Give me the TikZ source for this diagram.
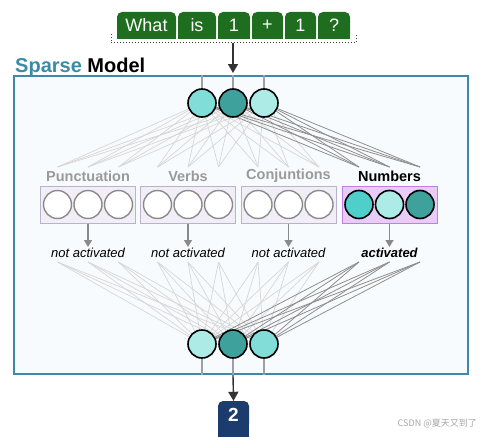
\documentclass[tikz,border=0pt]{standalone}
\usepackage{fontspec}
\setmainfont{Liberation Sans}
\newfontfamily\cjkfont{Noto Sans CJK SC}
\usetikzlibrary{arrows.meta}
\definecolor{tokgreen}{HTML}{1F6D1F}
\definecolor{navy}{HTML}{1C3C6E}
\definecolor{sparseteal}{HTML}{3A8BA8}
\definecolor{boxedge}{HTML}{3F88A8}
\definecolor{boxfill}{HTML}{F8FBFE}
\definecolor{tealA}{HTML}{80DDD7}
\definecolor{tealB}{HTML}{3FA19C}
\definecolor{tealC}{HTML}{ADEBE6}
\definecolor{tealD}{HTML}{4ECFC9}
\definecolor{idlegray}{HTML}{8A8A8A}
\definecolor{groupedge}{HTML}{B9B2C9}
\definecolor{groupfill}{HTML}{F1EEF8}
\definecolor{numedge}{HTML}{C27FE2}
\definecolor{numfill}{HTML}{E8CBF6}
\definecolor{lightline}{HTML}{D6D6D6}
\definecolor{darkline}{HTML}{8E8E8E}
\definecolor{vline}{HTML}{A0A0A0}
\definecolor{labgray}{HTML}{9A9A9A}
\pgfdeclarelayer{back}
\pgfdeclarelayer{lines}
\pgfsetlayers{back,lines,main}
\begin{document}
\begin{tikzpicture}[x=1pt,y=-1pt,
  tok/.style={fill=tokgreen,text=white,rounded corners=5pt,minimum height=27pt,inner sep=0pt,font=\fontsize{18}{18}\selectfont},
  neuron/.style={circle,draw=black,line width=1.6pt,minimum size=28pt,inner sep=0pt},
  idle/.style={circle,draw=idlegray,line width=1.4pt,fill=white,minimum size=28pt,inner sep=0pt},
  group/.style={draw=groupedge,fill=groupfill,line width=1pt,minimum width=95pt,minimum height=37pt,inner sep=0pt},
  numgroup/.style={draw=numedge,fill=numfill,line width=1pt,minimum width=95pt,minimum height=37pt,inner sep=0pt},
  catlab/.style={font=\bfseries\fontsize{14.5}{14.5}\selectfont,text=labgray,inner sep=0pt},
  actlab/.style={font=\itshape\fontsize{13}{13}\selectfont,inner sep=1pt},
  garr/.style={draw=idlegray,line width=1.3pt,-{Triangle[length=7pt,width=8pt]}},
  barr/.style={draw=black!80,line width=1.4pt,-{Triangle[length=9pt,width=10pt]}},
  vl/.style={draw=vline,line width=1.3pt},
  lightw/.style={draw=lightline,line width=0.7pt},
  darkw/.style={draw=darkline,line width=0.8pt}]
\useasboundingbox (0,0) rectangle (481,436);

% input tokens
\node[tok,minimum width=59pt] (w1) at (146.5,25.5) {What};
\node[tok,minimum width=38pt] (w2) at (197,25.5) {is};
\node[tok,minimum width=32pt] (w3) at (234,25.5) {1};
\node[tok,minimum width=31pt] (w4) at (267.5,25.5) {+};
\node[tok,minimum width=31pt] (w5) at (300.5,25.5) {1};
\node[tok,minimum width=32pt] (w6) at (334,25.5) {?};
\begin{pgfonlayer}{lines}
\foreach \w in {w1,w2,w3,w4,w5,w6}{
  \fill[tokgreen] (\w.west) rectangle (\w.south east);
}
\end{pgfonlayer}
\draw[black!75,line width=1pt,dotted] (111,34) -- (111,43) -- (356,43) -- (356,34);
\coordinate (inStart) at (233,43);
\coordinate (inEnd) at (233,73);
\draw[barr] (inStart) -- (inEnd);

% title
\node[anchor=base west,inner sep=0pt,font=\bfseries\fontsize{20}{20}\selectfont] (title) at (15,72) {\textcolor{sparseteal}{Sparse} Model};

% main box
\begin{pgfonlayer}{back}
\node[draw=boxedge,fill=boxfill,line width=1.8pt,minimum width=454pt,minimum height=298pt,inner sep=0pt] (box) at (241,225) {};
\end{pgfonlayer}

% top neurons
\node[neuron,fill=tealA] (t1) at (202,103) {};
\node[neuron,fill=tealB] (t2) at (233,103) {};
\node[neuron,fill=tealC] (t3) at (264,103) {};
\foreach \t in {t1,t2,t3}{
  \begin{pgfonlayer}{lines}
  \draw[vl] (\t) -- (\t |- box.north);
  \end{pgfonlayer}
}

% groups
\node[group] (gP) at (88,204.5) {};
\node[group] (gV) at (188,204.5) {};
\node[group] (gC) at (288.5,204.5) {};
\node[numgroup] (gN) at (389.5,204.5) {};

\node[catlab] (lP) at (88,176) {Punctuation};
\node[catlab] (lV) at (188,176) {Verbs};
\node[catlab] (lC) at (288.5,176) {Conjuntions};
\node[catlab,text=black] (lN) at (389.5,176) {Numbers};

\foreach \g/\x in {P/88,V/188,C/288.5}{
  \node[idle] (\g1) at (\x-30.5,204.5) {};
  \node[idle] (\g2) at (\x,204.5) {};
  \node[idle] (\g3) at (\x+30.5,204.5) {};
}
\node[neuron,fill=tealD] (N1) at (359,204.5) {};
\node[neuron,fill=tealC] (N2) at (389.5,204.5) {};
\node[neuron,fill=tealB] (N3) at (420,204.5) {};

\node[actlab] (aP) at (88,253) {not activated};
\node[actlab] (aV) at (188,253) {not activated};
\node[actlab] (aC) at (288.5,253) {not activated};
\node[actlab,font=\bfseries\itshape\fontsize{13}{13}\selectfont] (aN) at (389.5,253) {activated};
\foreach \g in {P,V,C,N}{
  \draw[garr] (g\g.south) -- (a\g.north);
}

% bottom neurons
\node[neuron,fill=tealC] (b1) at (202,344) {};
\node[neuron,fill=tealB] (b2) at (233,344) {};
\node[neuron,fill=tealA] (b3) at (264,344) {};

% wiring
\begin{pgfonlayer}{lines}
\foreach \g in {P1,P2,P3,V1,V2,V3,C1,C2,C3}{
  \coordinate (up\g) at ([yshift=37.5pt]\g);
  \coordinate (dn\g) at ([yshift=-57.5pt]\g);
  \foreach \t in {t1,t2,t3}{ \draw[lightw] (\t) -- (up\g); }
  \foreach \b in {b1,b2,b3}{ \draw[lightw] (dn\g) -- (\b); }
}
\foreach \g in {N1,N2,N3}{
  \coordinate (up\g) at ([yshift=37.5pt]\g);
  \coordinate (dn\g) at ([yshift=-57.5pt]\g);
  \foreach \t in {t1,t2,t3}{ \draw[darkw] (\t) -- (up\g); }
  \foreach \b in {b1,b2,b3}{ \draw[darkw] (dn\g) -- (\b); }
}
\foreach \b in {b1,b2,b3}{
  \draw[vl] (\b) -- (\b |- box.south);
}
\end{pgfonlayer}

% output
\node[fill=navy,text=white,rounded corners=5pt,minimum width=31pt,minimum height=28pt,inner sep=0pt,font=\bfseries\fontsize{19}{19}\selectfont] (out) at (233.5,415) {2};
\begin{pgfonlayer}{lines}
\fill[navy] (out.west) rectangle ([yshift=-25pt]out.south east);
\end{pgfonlayer}
\coordinate (outStart) at (b2 |- box.south);
\draw[barr] (outStart) -- (out.north);

% watermark
\node[anchor=east,inner sep=0pt,text=black!35,font=\cjkfont\fontsize{9}{9}\selectfont] (wm) at (477,424) {CSDN @夏天又到了};
\end{tikzpicture}
\end{document}
